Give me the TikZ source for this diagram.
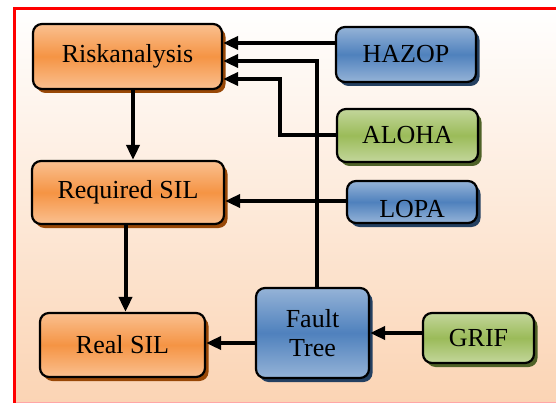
\documentclass[tikz,border=0pt]{standalone}
\usepackage{fontspec}
\setmainfont{Liberation Serif}
\usetikzlibrary{arrows.meta,shadows}

\definecolor{bgpeach}{RGB}{251,212,180}
\definecolor{orgtop}{RGB}{250,192,144}
\definecolor{orgmid}{RGB}{245,148,68}
\definecolor{orgshd}{RGB}{152,72,7}
\definecolor{blutop}{RGB}{149,179,215}
\definecolor{blumid}{RGB}{79,129,189}
\definecolor{blushd}{RGB}{36,64,97}
\definecolor{grntop}{RGB}{195,214,155}
\definecolor{grnmid}{RGB}{155,187,89}
\definecolor{grnshd}{RGB}{79,98,40}

\tikzset{
  box/.style={draw=black, line width=2.2pt, rounded corners=9pt,
    inner sep=0pt, align=center,
    font=\fontsize{26}{30}\selectfont},
  orangebox/.style={box, top color=orgtop, bottom color=orgtop, middle color=orgmid,
    drop shadow={shadow xshift=3.5pt, shadow yshift=-4pt, fill=orgshd, opacity=1}},
  bluebox/.style={box, top color=blutop, bottom color=blutop, middle color=blumid,
    drop shadow={shadow xshift=3.5pt, shadow yshift=-4pt, fill=blushd, opacity=1}},
  greenbox/.style={box, top color=grntop, bottom color=grntop, middle color=grnmid,
    drop shadow={shadow xshift=3.5pt, shadow yshift=-4pt, fill=grnshd, opacity=1}},
  arr/.style={line width=4pt, -{Triangle[length=15pt,width=13pt]}},
  wire/.style={line width=4pt}
}

\begin{document}
\begin{tikzpicture}[x=1pt,y=-1pt]
\useasboundingbox (0,0) rectangle (556,403);

% panel background and frame
\shade[top color=white, bottom color=bgpeach] (14.5,8.5) rectangle (556,403);
\draw[red!35, line width=1.2pt] (14.5,402.4) -- (556,402.4);
\draw[red, line width=2.5pt] (14.5,403) -- (14.5,8.5) -- (556,8.5);

% left column
\node[orangebox, minimum width=189pt, minimum height=65pt] (risk) at (127.5,56.5) {Riskanalysis};
\node[orangebox, minimum width=192pt, minimum height=63pt] (req) at (128,192.5) {Required SIL};
\node[orangebox, minimum width=165pt, minimum height=64pt] (real) at (122.5,345) {Real SIL};

% tools
\node[bluebox, minimum width=140pt, minimum height=55pt] (hazop) at (406,54.5) {HAZOP};
\node[greenbox, minimum width=141pt, minimum height=53pt] (aloha) at (407.5,135.5) {ALOHA};
\node[bluebox, minimum width=130pt, minimum height=42pt] (lopa) at (412,202) {\raisebox{-7pt}[\height][\depth]{LOPA}};
\node[bluebox, minimum width=113pt, minimum height=90pt] (fault) at (312.5,333) {Fault\\[-1pt]Tree};
\node[greenbox, minimum width=111pt, minimum height=50pt] (grif) at (478.5,338) {GRIF};

% connector lanes
\coordinate (laneA) at (0,43);
\coordinate (laneB) at (317,61);
\coordinate (laneC) at (280,79);
\coordinate (laneD) at (0,201);
\coordinate (laneE) at (133,0);
\coordinate (laneF) at (125.5,0);
\coordinate (laneG) at (0,343);
\coordinate (laneH) at (0,333);

% connectors
\draw[arr] (hazop.west |- laneA) -- (risk.east |- laneA);
\draw[arr] (fault.north -| laneB) -- (laneB) -- (risk.east |- laneB);
\draw[arr] (aloha.west) -- (aloha.west -| laneC) -- (laneC) -- (risk.east |- laneC);
\draw[arr] (lopa.west |- laneD) -- (req.east |- laneD);
\draw[arr] (risk.south -| laneE) -- (req.north -| laneE);
\draw[arr] (req.south -| laneF) -- (real.north -| laneF);
\draw[arr] (fault.west |- laneG) -- (real.east |- laneG);
\draw[arr] (grif.west |- laneH) -- (fault.east |- laneH);
\end{tikzpicture}
\end{document}
